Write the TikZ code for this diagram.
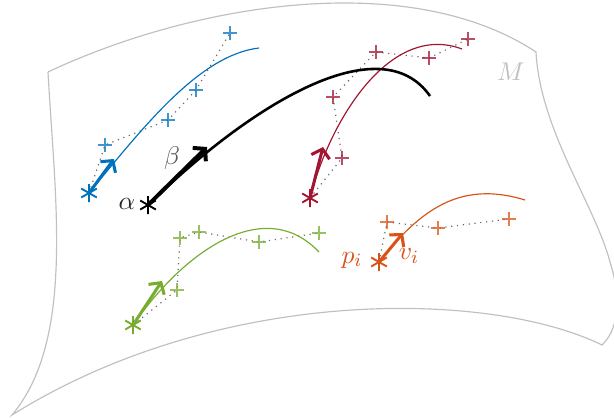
\documentclass[tikz,border=0pt]{standalone}
\usepackage{tikz}
\usetikzlibrary{arrows.meta}
\definecolor{mblue}{HTML}{0072BD}
\definecolor{mred}{HTML}{A2142F}
\definecolor{mgreen}{HTML}{77AC30}
\definecolor{morange}{HTML}{D95319}
\definecolor{mgray}{HTML}{C0C0C0}
\newcommand\asterat[2]{\draw[#2, line width=0.8pt] (#1) ++(0,-9) -- ++(0,18) (#1) ++(7.8,4.5) -- ++(-15.6,-9) (#1) ++(-7.8,4.5) -- ++(15.6,-9);}
\newcommand\crossat[2]{\draw[#2, line width=0.45pt, opacity=0.75] (#1) ++(-7,0) -- ++(14,0) (#1) ++(0,-7) -- ++(0,14);}

\begin{document}
\begin{tikzpicture}[x=0.015cm, y=-0.015cm,
  outline/.style={mgray, line width=0.5pt},
  vec/.style={line width=1.3pt, -{Straight Barb[length=3.5pt, width=8pt]}},
  guide/.style={black!60, dotted, line width=0.5pt},
  lbl/.style={font=\fontsize{11}{13}\selectfont}]
  \useasboundingbox (0,0) rectangle (614,417);
  % the manifold
  \coordinate (A) at (48,72);
  \coordinate (B) at (536,52);
  \coordinate (C) at (602,345);
  \coordinate (D) at (12,415);
  \draw[outline] (A) .. controls (190,5) and (407,-33) .. (B)
    .. controls (540,130) and (595,205) .. (610,262)
    .. controls (622,300) and (618,330) .. (C)
    .. controls (490,290) and (220,285) .. (D)
    .. controls (75,340) and (55,200) .. (A);
  \node[lbl, mgray] (M) at (511,72) {$M$};

  % blue
  \coordinate (b0) at (89,193);
  \coordinate (bt) at (114,159);
  \coordinate (b1) at (105,145);
  \coordinate (b2) at (168,120);
  \coordinate (b3) at (196,90);
  \coordinate (b4) at (230,33);
  \draw[guide] (b0) -- (b1) -- (b2) -- (b3) -- (b4);
  \foreach \p in {b1,b2,b3,b4} {\crossat{\p}{mblue}}
  \draw[mblue, line width=0.5pt] (b0) .. controls (145,125) and (200,55) .. (259,48);
  \draw[vec, mblue] (b0) -- (bt);
  \asterat{b0}{mblue}

  % red
  \coordinate (r0) at (310,198);
  \coordinate (rt) at (323,147);
  \coordinate (r1) at (342,158);
  \coordinate (r2) at (333,97);
  \coordinate (r3) at (376,52);
  \coordinate (r4) at (429,58);
  \coordinate (r5) at (468,39);
  \draw[guide] (r0) -- (r1) -- (r2) -- (r3) -- (r4) -- (r5);
  \foreach \p in {r1,r2,r3,r4,r5} {\crossat{\p}{mred}}
  \draw[mred, line width=0.5pt] (r0) .. controls (330,120) and (390,22) .. (462,49);
  \draw[vec, mred] (r0) -- (rt);
  \asterat{r0}{mred}

  % green
  \coordinate (g0) at (133,325);
  \coordinate (gt) at (162,281);
  \coordinate (g1) at (177,290);
  \coordinate (g2) at (180,238);
  \coordinate (g3) at (199,232);
  \coordinate (g4) at (259,242);
  \coordinate (g5) at (319,233);
  \draw[guide] (g0) -- (g1) -- (g2) -- (g3) -- (g4) -- (g5);
  \foreach \p in {g1,g2,g3,g4,g5} {\crossat{\p}{mgreen}}
  \draw[mgreen, line width=0.5pt] (g0) .. controls (185,250) and (265,195) .. (319,252);
  \draw[vec, mgreen] (g0) -- (gt);
  \asterat{g0}{mgreen}

  % orange
  \coordinate (o0) at (379,262);
  \coordinate (ot) at (403,233);
  \coordinate (o1) at (387,222);
  \coordinate (o2) at (438,228);
  \coordinate (o3) at (509,219);
  \draw[guide] (o0) -- (o1) -- (o2) -- (o3);
  \foreach \p in {o1,o2,o3} {\crossat{\p}{morange}}
  \draw[morange, line width=0.5pt] (o0) .. controls (420,210) and (460,180) .. (525,200);
  \draw[vec, morange] (o0) -- (ot);
  \asterat{o0}{morange}
  \node[lbl, morange] (p) at (352,260) {$p_i$};
  \node[lbl, morange] (v) at (409,256) {$v_i$};

  % black
  \coordinate (a0) at (148,205);
  \coordinate (at) at (207,147);
  \draw[black, line width=1.1pt] (a0) .. controls (250,105) and (380,25) .. (430,96);
  \draw[vec, line width=1.7pt] (a0) -- (at);
  \asterat{a0}{black}
  \node[lbl, black!85] (alpha) at (127,204) {$\alpha$};
  \node[lbl, black!65] (beta) at (172,158) {$\beta$};
\end{tikzpicture}
\end{document}
